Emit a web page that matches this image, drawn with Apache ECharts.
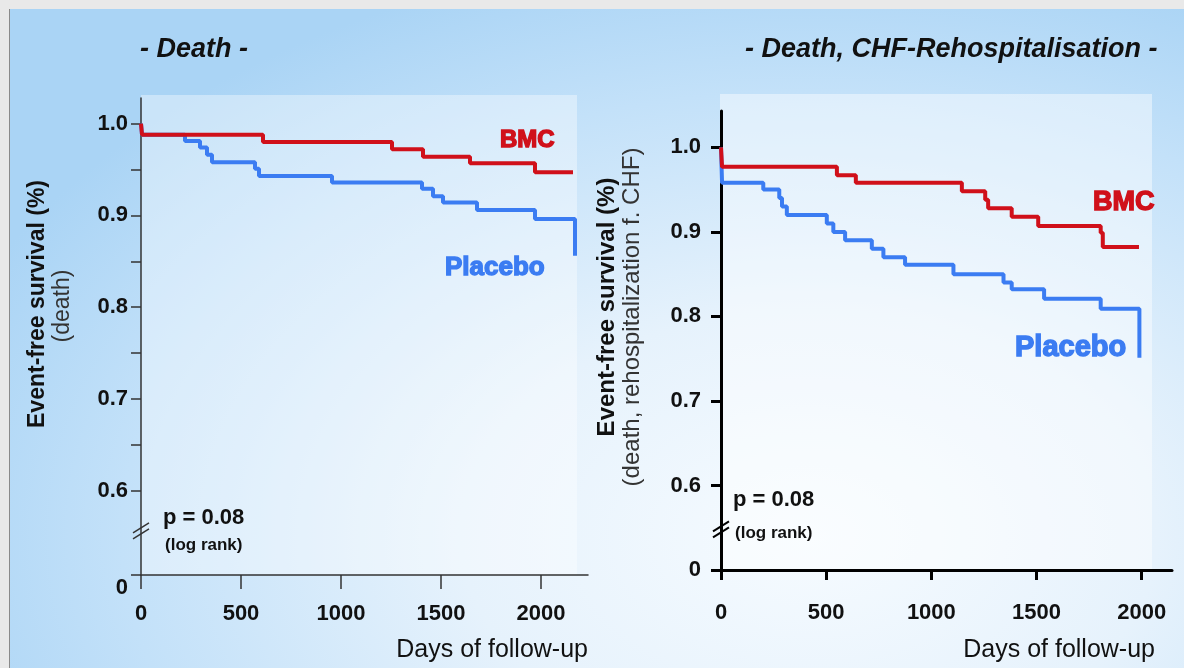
<!DOCTYPE html>
<html>
<head>
<meta charset="utf-8">
<script src="https://cdn.jsdelivr.net/npm/echarts@6/dist/echarts.min.js"></script>
<style>
  html, body { margin: 0; padding: 0; background: #e9e9e9; overflow: hidden; }
  #frame {
    position: absolute; left: 9px; top: 9px; width: 1175px; height: 659px;
    border-left: 1px solid #8a8a8a;
    background: radial-gradient(ellipse 78% 90% at 68% 80%, #f6fbff 0%, #e6f2fc 38%, #c3e1f9 75%, #aad4f5 100%);
  }
  #chart { position: absolute; left: 0; top: 0; width: 1184px; height: 668px; }
</style>
</head>
<body>
<div id="frame"></div>
<div id="chart"></div>
<script>
// ---- data ----
const xTicks = [0, 500, 1000, 1500, 2000];

// left: death
const leftBmcDays = [0, 5, 610, 1255, 1410, 1645, 1970, 2160];
const leftBmcSurv = [1.0, 0.988, 0.980, 0.972, 0.964, 0.957, 0.947, 0.947];
const leftPlaceboDays = [0, 5, 220, 295, 330, 355, 570, 590, 955, 1405, 1460, 1510, 1680, 1970, 2170];
const leftPlaceboSurv = [1.0, 0.988, 0.981, 0.974, 0.966, 0.958, 0.951, 0.943, 0.936, 0.929, 0.921, 0.914, 0.906, 0.896, 0.856];
const leftYLabels = [0.6, 0.7, 0.8, 0.9, 1.0];
const leftYTicks = [0.6, 0.65, 0.7, 0.75, 0.8, 0.85, 0.9, 0.95, 1.0];

// right: death + CHF rehospitalisation
const rightBmcDays = [0, 5, 551, 641, 1145, 1256, 1270, 1382, 1508, 1805, 1815, 1987];
const rightBmcSurv = [1.0, 0.977, 0.967, 0.958, 0.948, 0.938, 0.928, 0.918, 0.907, 0.899, 0.882, 0.882];
const rightPlaceboDays = [0, 5, 201, 277, 290, 313, 503, 534, 590, 717, 772, 875, 1105, 1343, 1382, 1536, 1805, 1989];
const rightPlaceboSurv = [1.0, 0.958, 0.950, 0.940, 0.930, 0.920, 0.910, 0.900, 0.890, 0.880, 0.870, 0.861, 0.850, 0.840, 0.832, 0.821, 0.809, 0.751];
const rightYLabels = [0.6, 0.7, 0.8, 0.9, 1.0];

const RED = "#d0101a";
const BLUE = "#3b7cf2";
const FONT = "'Liberation Sans', Arial, sans-serif";

function zip(xs, ys) {
  return xs.map((x, i) => [x, ys[i]]);
}

const leftMin = 0.508; // the broken "0" of the left axis
const rightMin = 0.5;

const chart = echarts.init(document.getElementById("chart"));

function yAxis(gridIndex, min, max, labels, ticks, heavy) {
  const col = heavy ? "#000" : "#333";
  const w = heavy ? 3 : 1.5;
  return {
    type: "value",
    gridIndex: gridIndex,
    min: min,
    max: max,
    splitLine: { show: false },
    axisLine: { show: true, onZero: false, lineStyle: { color: col, width: w } },
    axisTick: { show: true, length: 10, customValues: [min].concat(ticks), lineStyle: { color: col, width: w } },
    axisLabel: {
      customValues: [min].concat(labels),
      margin: heavy ? 20 : 13,
      color: "#111",
      fontFamily: FONT,
      fontWeight: "bold",
      fontSize: 22,
      formatter: function (v) {
        if (v < 0.55) return heavy ? "0" : "{z|0}";
        return v.toFixed(1);
      },
      rich: { z: { fontFamily: FONT, fontWeight: "bold", fontSize: 22, color: "#111", padding: [26, 0, 0, 0] } },
    },
  };
}

function xAxis(gridIndex, max, heavy) {
  const col = heavy ? "#000" : "#333";
  const w = heavy ? 3 : 1.5;
  return {
    type: "value",
    gridIndex: gridIndex,
    min: 0,
    max: max,
    splitLine: { show: false },
    axisLine: { show: true, onZero: false, lineStyle: { color: col, width: w } },
    axisTick: { show: true, length: heavy ? 10 : 14, customValues: xTicks, lineStyle: { color: col, width: w } },
    axisLabel: {
      customValues: xTicks,
      margin: heavy ? 32 : 28,
      color: "#111",
      fontFamily: FONT,
      fontWeight: "bold",
      fontSize: 22,
      formatter: function (v) {
        return String(v);
      },
    },
  };
}

function kmSeries(idx, days, surv, color, z) {
  return {
    type: "line",
    xAxisIndex: idx,
    yAxisIndex: idx,
    step: "end",
    symbol: "none",
    z: z,
    data: zip(days, surv),
    lineStyle: { color: color, width: 4 },
  };
}

function text(x, y, str, font, fill, align, rotate) {
  return {
    type: "text",
    x: x,
    y: y,
    rotation: rotate ? Math.PI / 2 : 0,
    style: { text: str, font: font, fill: fill, align: align || "left", verticalAlign: "middle" },
  };
}

function groupLabel(x, y, str, size, color) {
  return {
    type: "text",
    x: x,
    y: y,
    style: {
      text: str,
      font: "bold " + size + "px " + FONT,
      fill: color,
      stroke: color,
      lineWidth: 1.4,
      align: "left",
      verticalAlign: "middle",
      shadowColor: "rgba(40,0,0,0.85)",
      shadowBlur: 2,
      shadowOffsetX: 2,
      shadowOffsetY: 2,
    },
  };
}

const graphics = [
  // plot area panels
  { type: "rect", z: -10, shape: { x: 141, y: 95, width: 436, height: 480 }, style: { fill: "rgba(255,255,255,0.38)" } },
  { type: "rect", z: -10, shape: { x: 720, y: 94, width: 432, height: 476 }, style: { fill: "rgba(255,255,255,0.45)" } },

  // titles
  text(140, 50, "- Death -", "italic bold 27px " + FONT, "#111"),
  text(745, 50, "- Death, CHF-Rehospitalisation -", "italic bold 27px " + FONT, "#111"),

  // y-axis titles
  text(38, 304, "Event-free survival (%)", "bold 23px " + FONT, "#111", "center", true),
  text(63, 306, "(death)", "23px " + FONT, "#333", "center", true),
  text(607, 307, "Event-free survival (%)", "bold 24px " + FONT, "#111", "center", true),
  text(632, 317, "(death, rehospitalization f. CHF)", "24px " + FONT, "#333", "center", true),

  // group labels
  groupLabel(500, 140, "BMC", 24, RED),
  groupLabel(445, 268, "Placebo", 26, BLUE),
  groupLabel(1093, 203, "BMC", 27, RED),
  groupLabel(1015, 348, "Placebo", 29, BLUE),

  // p values
  text(163, 518, "p = 0.08", "bold 22px " + FONT, "#111"),
  text(165, 545, "(log rank)", "bold 17px " + FONT, "#111"),
  text(733, 500, "p = 0.08", "bold 22px " + FONT, "#111"),
  text(735, 533, "(log rank)", "bold 17px " + FONT, "#111"),

  // x-axis titles
  text(588, 650, "Days of follow-up", "25px " + FONT, "#111", "right"),
  text(1155, 650, "Days of follow-up", "25px " + FONT, "#111", "right"),
];

const option = {
  animation: false,
  backgroundColor: "transparent",
  grid: [
    { left: 141, top: 98, width: 447, height: 477, containLabel: false },
    { left: 721, top: 111, width: 451, height: 459, containLabel: false },
  ],
  xAxis: [xAxis(0, 2235, false), xAxis(1, 2144, true)],
  yAxis: [
    yAxis(0, leftMin, 1.028, leftYLabels, leftYTicks, false),
    yAxis(1, rightMin, 1.043, rightYLabels, rightYLabels, true),
  ],
  series: [
    kmSeries(0, leftPlaceboDays, leftPlaceboSurv, BLUE, 2),
    kmSeries(0, leftBmcDays, leftBmcSurv, RED, 3),
    kmSeries(1, rightPlaceboDays, rightPlaceboSurv, BLUE, 2),
    kmSeries(1, rightBmcDays, rightBmcSurv, RED, 3),
  ],
  graphic: graphics,
};

chart.setOption(option);

// axis-break marks "//" on both y axes, placed through the axis scales
function breakMarks(gridIndex, value, col, w) {
  const p = chart.convertToPixel({ gridIndex: gridIndex }, [0, value]);
  const out = [];
  [-3, 3].forEach(function (d) {
    out.push({
      type: "line",
      z: 100,
      shape: { x1: p[0] - 8, y1: p[1] + d + 5, x2: p[0] + 8, y2: p[1] + d - 5 },
      style: { stroke: col, lineWidth: w },
    });
  });
  return out;
}
chart.setOption({
  graphic: graphics.concat(breakMarks(0, 0.556, "#333", 1.5), breakMarks(1, 0.548, "#000", 2)),
});

window.addEventListener("resize", function () {
  chart.resize();
});
</script>
</body>
</html>
